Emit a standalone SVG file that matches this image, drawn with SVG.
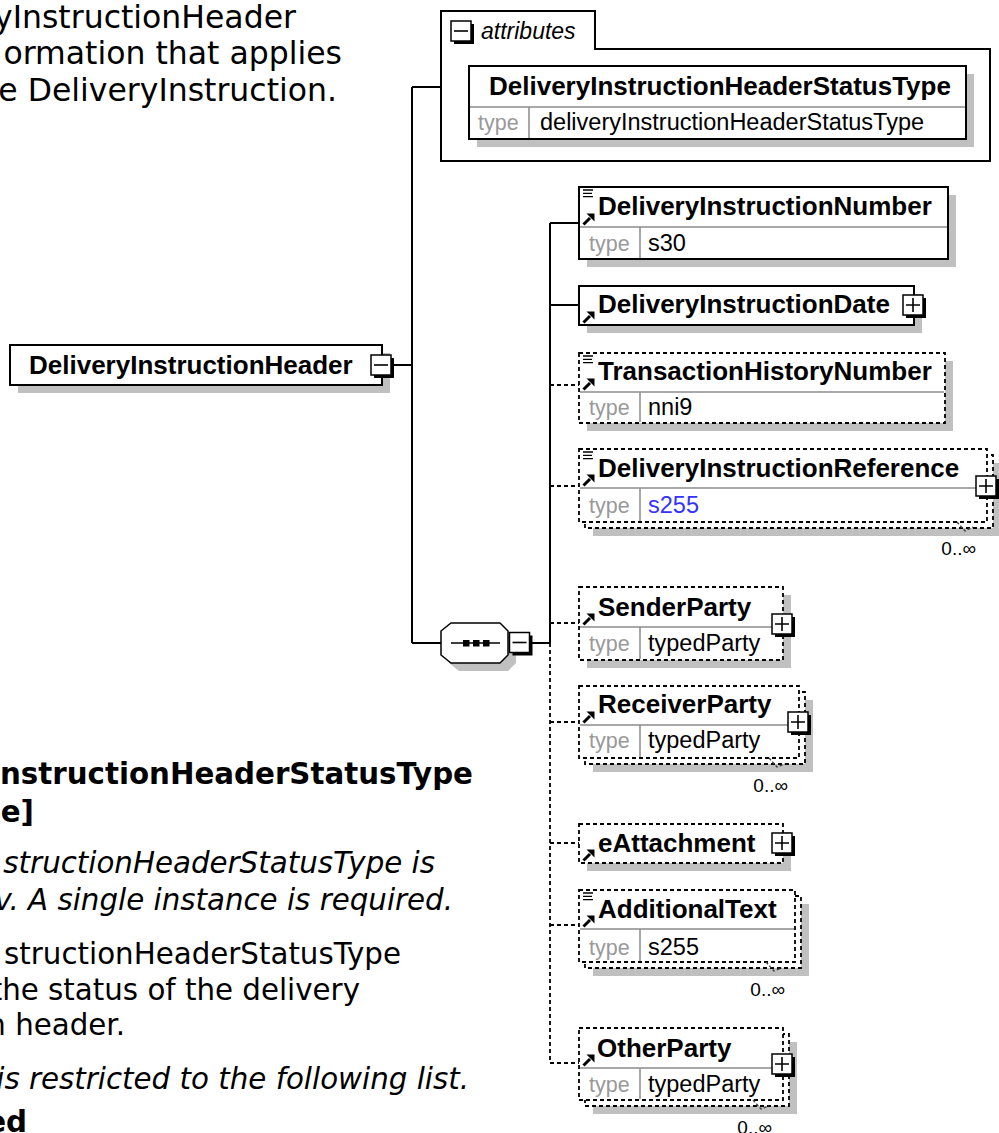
<svg xmlns="http://www.w3.org/2000/svg" width="999" height="1133" viewBox="0 0 999 1133">
<defs>
<style>
.nm{font-family:"Liberation Sans",Arial,sans-serif;font-weight:bold;font-size:26px;fill:#000}
.tl{font-family:"Liberation Sans",Arial,sans-serif;font-size:21.5px;fill:#999}
.tv{font-family:"Liberation Sans",Arial,sans-serif;font-size:23.5px;fill:#000}
.oc{font-family:"Liberation Sans",Arial,sans-serif;font-size:19px;fill:#000;text-anchor:end}
.sh{fill:#c0c0c0}
.bx{fill:#fff;stroke:#000;stroke-width:2}
.db{fill:#fff;stroke:#000;stroke-width:1.8;stroke-dasharray:4 3}
.dv{stroke:#8c8c8c;stroke-width:1.5;fill:none}
.ln{stroke:#000;stroke-width:2;fill:none}
.dl{stroke:#000;stroke-width:1.8;fill:none;stroke-dasharray:4 3}
.tk{stroke:#444;stroke-width:1.3;fill:none;stroke-dasharray:3 2}
.p{font-family:"DejaVu Sans",Verdana,sans-serif;fill:#000;text-anchor:end}
.p1{font-size:31.5px}
.p2{font-size:29.3px}
.b{font-weight:bold}
.i{font-style:italic}
</style>
<g id="plus">
<rect x="-8" y="-8" width="20" height="20" fill="#000"/>
<rect x="-11" y="-11" width="20" height="20" fill="#fff" stroke="#000" stroke-width="1.5"/>
<path d="M-8,-1H6M-1,-8V6" stroke="#000" stroke-width="1.6"/>
</g>
<g id="minus">
<rect x="-8" y="-8" width="20" height="20" fill="#000"/>
<rect x="-11" y="-11" width="20" height="20" fill="#fff" stroke="#000" stroke-width="1.5"/>
<path d="M-8,-1H6" stroke="#000" stroke-width="1.6"/>
</g>
<g id="ref">
<path d="M0.5,-0.5L7,-7" stroke="#000" stroke-width="3"/>
<polygon points="11.5,-11.5 3.5,-11.5 11.5,-3.5" fill="#000"/>
</g>
<g id="doc">
<path d="M0,0H10M0,3.3H9M0,6.6H10" stroke="#000" stroke-width="1.3"/>
</g>
</defs>

<g id="description-top">
<text class="p p1" x="296" y="28">yInstructionHeader</text>
<text class="p p1" x="342" y="64">ormation that applies</text>
<text class="p p1" x="337" y="101">e DeliveryInstruction.</text>
</g>

<g id="description-bottom">
<text class="p p2 b" x="473" y="784">nstructionHeaderStatusType</text>
<text class="p p2 b" x="34" y="822">e]</text>
<text class="p p2 i" x="435" y="873">structionHeaderStatusType is</text>
<text class="p p2 i" x="453" y="910">v. A single instance is required.</text>
<text class="p p2" x="401" y="964">structionHeaderStatusType</text>
<text class="p p2" x="360" y="1000">the status of the delivery</text>
<text class="p p2" x="125" y="1035">n header.</text>
<text class="p p2 i" x="469" y="1089">is restricted to the following list.</text>
<text class="p p2 b" x="27" y="1132">ed</text>
</g>

<g id="connectors">
<path class="ln" d="M393,365H412M412,87V643M412,87H441M412,643H441"/>
<path class="ln" d="M532,643H550M550,223V643M550,223H579M550,305H579"/>
<path class="dl" d="M550,643V1063M550,385H579M550,486H579M550,623H579M550,722H579M550,843H579M550,925H579M550,1063H579"/>
</g>

<g id="DeliveryInstructionHeader">
<rect class="sh" x="18" y="353" width="372" height="40"/>
<rect class="bx" x="10" y="345" width="372" height="40"/>
<text class="nm" x="29" y="374">DeliveryInstructionHeader</text>
<use href="#minus" transform="translate(382,366)"/>
</g>

<g id="attributes">
<path fill="#fff" stroke="#000" stroke-width="2" d="M441,11H595V49H990V161H441Z"/>
<use href="#minus" transform="translate(462,32)"/>
<text x="481" y="39" font-family="Liberation Sans, Arial, sans-serif" font-style="italic" font-size="23px" fill="#000">attributes</text>
<g id="DeliveryInstructionHeaderStatusType">
<rect class="sh" x="477" y="74" width="497" height="73"/>
<rect class="bx" x="469" y="66" width="497" height="73"/>
<path class="dv" d="M470,107H965M529,107V138"/>
<text class="nm" x="489" y="95">DeliveryInstructionHeaderStatusType</text>
<text class="tl" x="478" y="130">type</text>
<text class="tv" x="540" y="130">deliveryInstructionHeaderStatusType</text>
</g>
</g>

<g id="sequence">
<polygon class="sh" points="459,631 508,631 516,639 516,663 508,671 459,671 449,663 449,639"/>
<polygon fill="#fff" stroke="#000" stroke-width="1.5" points="451,623 500,623 508,631 508,655 500,663 451,663 441,655 441,631"/>
<path d="M451,643H500" stroke="#000" stroke-width="1.5"/>
<rect x="463" y="640" width="6.5" height="6.5" fill="#000"/>
<rect x="473" y="640" width="6.5" height="6.5" fill="#000"/>
<rect x="483" y="640" width="6.5" height="6.5" fill="#000"/>
<use href="#minus" transform="translate(520.5,643.5)"/>
</g>

<g id="DeliveryInstructionNumber">
<rect class="sh" x="587" y="195" width="369" height="72"/>
<rect class="bx" x="579" y="187" width="369" height="72"/>
<path class="dv" d="M580,227H947M640,227V258"/>
<use href="#doc" x="583" y="190"/>
<use href="#ref" x="583" y="225"/>
<text class="nm" x="598" y="215">DeliveryInstructionNumber</text>
<text class="tl" x="589" y="251">type</text>
<text class="tv" x="648" y="251">s30</text>
</g>

<g id="DeliveryInstructionDate">
<rect class="sh" x="587" y="294" width="335" height="39"/>
<rect class="bx" x="579" y="286" width="335" height="39"/>
<use href="#ref" x="583" y="323"/>
<text class="nm" x="598" y="313">DeliveryInstructionDate</text>
<use href="#plus" transform="translate(914,306)"/>
</g>

<g id="TransactionHistoryNumber">
<rect class="sh" x="587" y="361" width="366" height="70"/>
<rect class="db" x="579" y="353" width="366" height="70"/>
<path class="dv" d="M580,392H944M640,392V422"/>
<use href="#doc" x="583" y="356"/>
<use href="#ref" x="583" y="390"/>
<text class="nm" x="598" y="380">TransactionHistoryNumber</text>
<text class="tl" x="589" y="415">type</text>
<text class="tv" x="648" y="415">nni9</text>
</g>

<g id="DeliveryInstructionReference">
<rect class="sh" x="593" y="463" width="406" height="73"/>
<rect class="db" x="585" y="455" width="408" height="73"/>
<rect class="db" x="579" y="449" width="408" height="73"/>
<path class="dv" d="M580,488H986M640,488V521"/>
<use href="#doc" x="583" y="452"/>
<use href="#ref" x="583" y="486"/>
<text class="nm" x="598" y="477">DeliveryInstructionReference</text>
<text class="tl" x="589" y="513">type</text>
<text class="tv" x="648" y="513" style="fill:#3333ff">s255</text>
<use href="#plus" transform="translate(987,487)"/>
<path class="tk" d="M957,522L965,531L973,527"/>
<text class="oc" x="976" y="555">0..∞</text>
</g>

<g id="SenderParty">
<rect class="sh" x="587" y="595" width="204" height="73"/>
<rect class="db" x="579" y="587" width="204" height="73"/>
<path class="dv" d="M580,627H782M640,627V659"/>
<use href="#ref" x="583" y="625"/>
<text class="nm" x="598" y="616">SenderParty</text>
<text class="tl" x="589" y="651">type</text>
<text class="tv" x="648" y="651">typedParty</text>
<use href="#plus" transform="translate(783,625)"/>
</g>

<g id="ReceiverParty">
<rect class="sh" x="593" y="700" width="220" height="72"/>
<rect class="db" x="585" y="692" width="220" height="72"/>
<rect class="db" x="579" y="686" width="220" height="72"/>
<path class="dv" d="M580,725H798M640,725V757"/>
<use href="#ref" x="583" y="723"/>
<text class="nm" x="598" y="713">ReceiverParty</text>
<text class="tl" x="589" y="748">type</text>
<text class="tv" x="648" y="748">typedParty</text>
<use href="#plus" transform="translate(799,723)"/>
<path class="tk" d="M769,758L777,767L785,764"/>
<text class="oc" x="788" y="792">0..∞</text>
</g>

<g id="eAttachment">
<rect class="sh" x="587" y="832" width="204" height="39"/>
<rect class="db" x="579" y="824" width="204" height="39"/>
<use href="#ref" x="583" y="861"/>
<text class="nm" x="598" y="852">eAttachment</text>
<use href="#plus" transform="translate(783,844)"/>
</g>

<g id="AdditionalText">
<rect class="sh" x="593" y="904" width="216" height="72"/>
<rect class="db" x="585" y="896" width="216" height="72"/>
<rect class="db" x="579" y="890" width="216" height="72"/>
<path class="dv" d="M580,929H794M640,929V961"/>
<use href="#doc" x="583" y="893"/>
<use href="#ref" x="583" y="927"/>
<text class="nm" x="598" y="918">AdditionalText</text>
<text class="tl" x="589" y="955">type</text>
<text class="tv" x="648" y="955">s255</text>
<path class="tk" d="M766,962L774,971L782,968"/>
<text class="oc" x="785" y="996">0..∞</text>
</g>

<g id="OtherParty">
<rect class="sh" x="593" y="1042" width="204" height="72"/>
<rect class="db" x="585" y="1034" width="204" height="72"/>
<rect class="db" x="579" y="1028" width="204" height="72"/>
<path class="dv" d="M580,1068H782M640,1068V1099"/>
<use href="#ref" x="583" y="1066"/>
<text class="nm" x="597" y="1057">OtherParty</text>
<text class="tl" x="589" y="1092">type</text>
<text class="tv" x="648" y="1092">typedParty</text>
<use href="#plus" transform="translate(783,1065)"/>
<path class="tk" d="M753,1100L761,1109L769,1106"/>
<text class="oc" x="772" y="1134">0..∞</text>
</g>
</svg>
